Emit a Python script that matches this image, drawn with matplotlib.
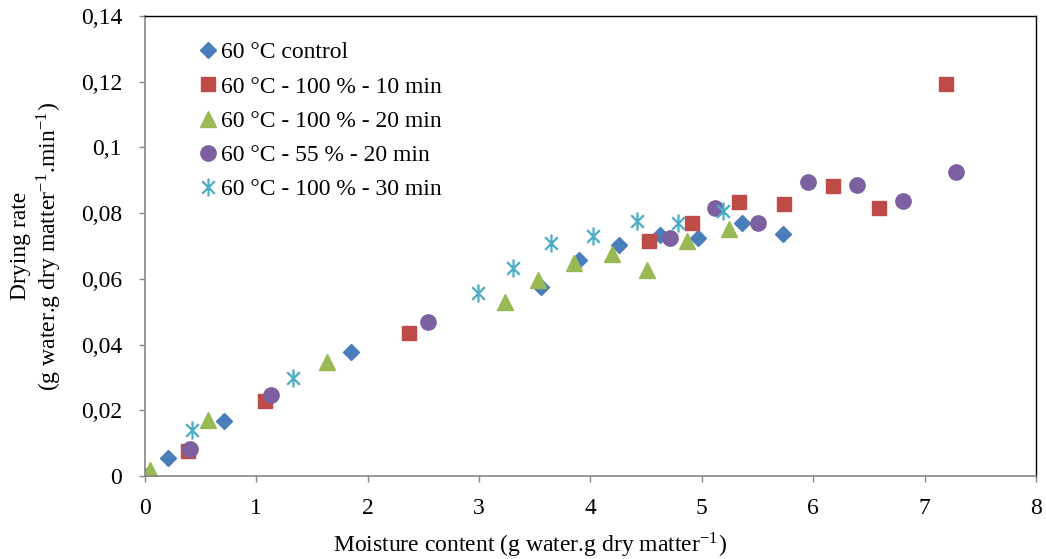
import numpy as np
import matplotlib
matplotlib.use("Agg")
import matplotlib.pyplot as plt
from matplotlib.path import Path
from matplotlib.ticker import FuncFormatter

plt.rcParams['font.family'] = ['Liberation Serif', 'DejaVu Serif']
plt.rcParams['mathtext.fontset'] = 'stix'

# 60 °C control
ctrl_x = [0.0, 0.21, 0.71, 1.85, 3.56, 3.90, 4.26, 4.62, 4.97, 5.36, 5.73]
ctrl_y = [0.0, 0.0055, 0.0167, 0.0377, 0.0575, 0.0657, 0.0703, 0.0733, 0.0724, 0.0770, 0.0736]
# 60 °C - 100 % - 10 min
r10_x = [0.39, 1.08, 2.37, 4.53, 4.91, 5.33, 5.74, 6.18, 6.59, 7.19]
r10_y = [0.0076, 0.0228, 0.0435, 0.0715, 0.0770, 0.0834, 0.0828, 0.0883, 0.0816, 0.1193]
# 60 °C - 100 % - 20 min
r20_x = [0.045, 0.57, 1.63, 3.23, 3.53, 3.85, 4.19, 4.51, 4.87, 5.24]
r20_y = [0.0018, 0.0170, 0.0347, 0.0530, 0.0597, 0.0648, 0.0676, 0.0627, 0.0715, 0.0752]
# 60 °C - 55 % - 20 min
r55_x = [0.40, 1.13, 2.54, 4.71, 5.12, 5.50, 5.95, 6.39, 6.81, 7.28]
r55_y = [0.0082, 0.0246, 0.0469, 0.0724, 0.0816, 0.0770, 0.0895, 0.0886, 0.0837, 0.0925]
# 60 °C - 100 % - 30 min
r30_x = [0.42, 1.33, 2.99, 3.30, 3.65, 4.02, 4.42, 4.79, 5.19]
r30_y = [0.0140, 0.0298, 0.0557, 0.0633, 0.0709, 0.0730, 0.0776, 0.0770, 0.0807]

# excel style asterisk: an X with a vertical bar through it
star = Path([(-0.7, -0.7), (0.7, 0.7), (-0.7, 0.7), (0.7, -0.7), (0, -1), (0, 1)],
            [Path.MOVETO, Path.LINETO, Path.MOVETO, Path.LINETO, Path.MOVETO, Path.LINETO])

fig = plt.figure(figsize=(10.46, 5.59), dpi=100, facecolor='white')
ax = fig.add_axes([0.1386, 0.1485, 0.8518, 0.8229])

ax.plot(ctrl_x, ctrl_y, 'D', color='#4A7EBB', markersize=8, label='60 °C control')
ax.plot(r10_x, r10_y, 's', color='#BE4B48', markersize=10.5, label='60 °C - 100 % - 10 min')
ax.plot(r20_x, r20_y, '^', color='#98B954', markersize=11, label='60 °C - 100 % - 20 min')
ax.plot(r55_x, r55_y, 'o', color='#7D60A0', markersize=11, label='60 °C - 55 % - 20 min')
ax.plot(r30_x, r30_y, linestyle='none', marker=star, color='#4BACC6', markersize=13,
        markeredgewidth=1.6, markerfacecolor='none', label='60 °C - 100 % - 30 min')

ax.set_xlim(0, 8)
ax.set_ylim(0, 0.14)
ax.set_xticks(np.arange(0, 9, 1))
ax.set_yticks(np.arange(0, 0.141, 0.02))
ax.yaxis.set_major_formatter(FuncFormatter(lambda v, p: ('%g' % round(v, 2)).replace('.', ',')))
ax.tick_params(direction='out', length=4, width=1, color='#868686', labelsize=17)
ax.tick_params(axis='x', pad=11.5)
ax.tick_params(axis='y', pad=12.5)

for s in ['left', 'bottom']:
    ax.spines[s].set_color('#868686')
    ax.spines[s].set_linewidth(1.2)
for s in ['top', 'right']:
    ax.spines[s].set_color('black')
    ax.spines[s].set_linewidth(1)

ax.set_xlabel('Moisture content (g water.g dry matter$^{\\mathregular{-1}}$)', fontsize=17)
ax.xaxis.set_label_coords(0.432, -0.119)
ax.set_ylabel('Drying rate\n(g water.g dry matter$^{\\mathregular{-1}}$.min$^{\\mathregular{-1}}$)',
              fontsize=17, linespacing=1.15)
ax.yaxis.set_label_coords(-0.091, 0.5)

leg = ax.legend(loc='upper left', bbox_to_anchor=(0.063, 0.944), frameon=False, fontsize=17,
                handlelength=0.6, handletextpad=0.25, labelspacing=0.54, borderaxespad=0,
                borderpad=0)

fig.savefig('out.png', dpi=100)
